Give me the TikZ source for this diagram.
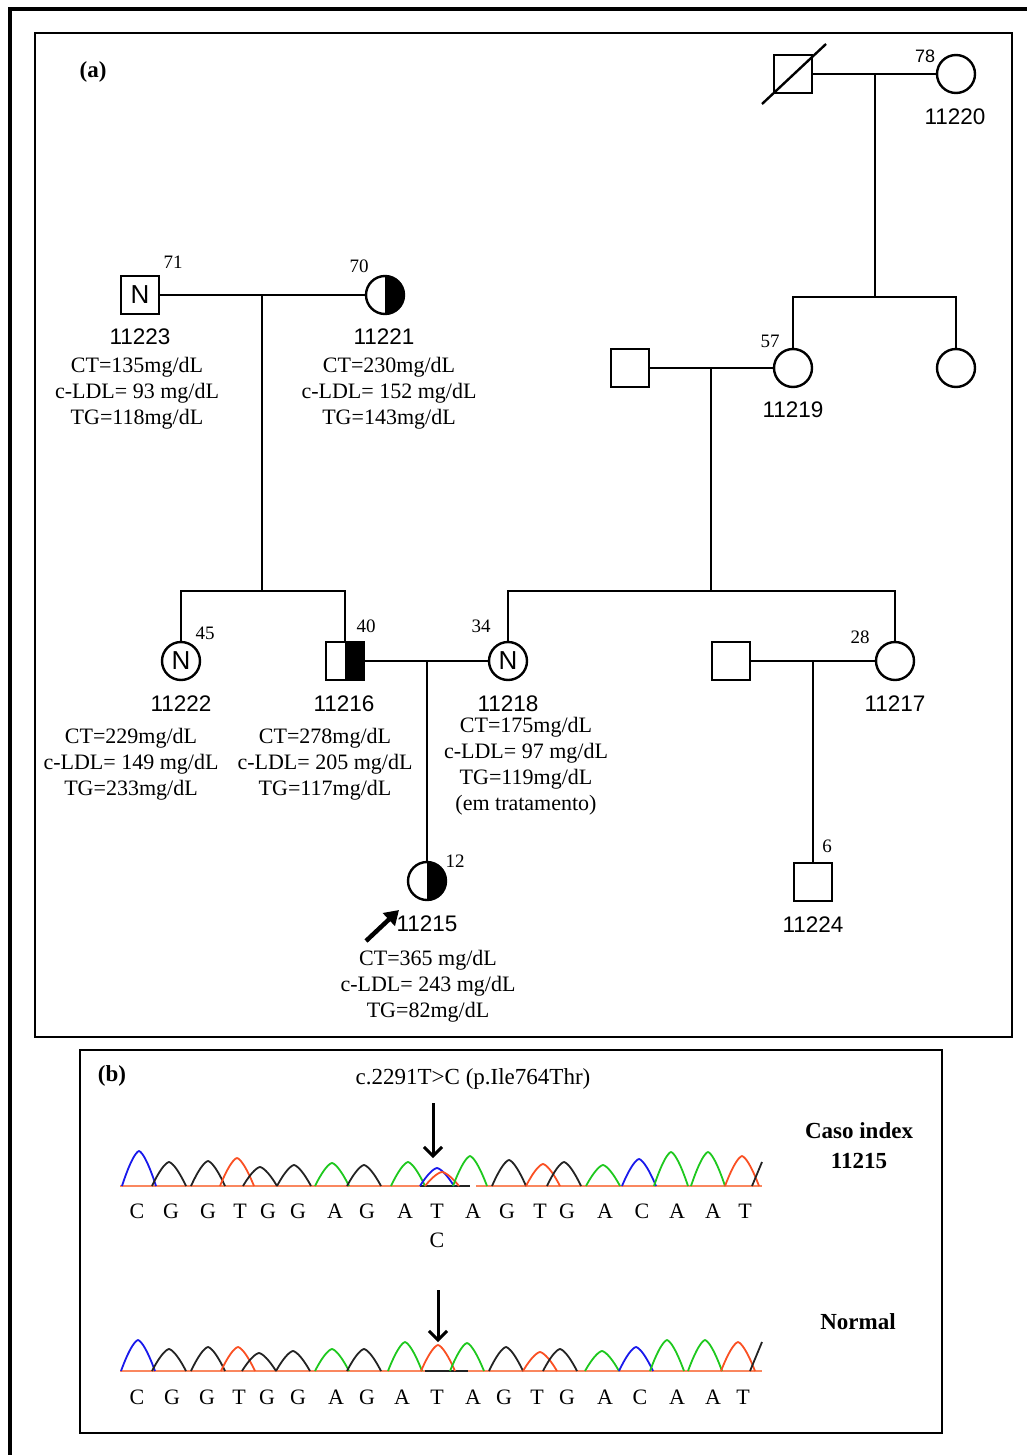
\documentclass[tikz,border=0pt]{standalone}
\usepackage{fontspec}
\setmainfont{Liberation Serif}
\newfontfamily\arialf{Liberation Sans}
\usetikzlibrary{arrows.meta,calc}
\definecolor{cblue}{RGB}{25,25,235}
\definecolor{cgreen}{RGB}{30,200,30}
\definecolor{cred}{RGB}{250,80,35}
\definecolor{cbase}{RGB}{250,135,95}
\definecolor{cblack}{RGB}{35,35,35}
\newcommand\pk[4]{\draw[#3,line width=1.8pt,line join=round] plot[domain=-17:17,samples=25,smooth] ({#1+\x},{#4-#2*(1-abs(\x/17)^1.5)});}
\begin{document}
\begin{tikzpicture}[x=1pt,y=-1pt,
  ln/.style={line width=2.6pt},
  male/.style={draw,line width=2.4pt,rectangle,minimum size=38pt,inner sep=0pt,fill=white},
  female/.style={draw,line width=2.4pt,circle,minimum size=38pt,inner sep=0pt,fill=white},
  halfright/.style={path picture={\fill[black] (path picture bounding box.north) rectangle (path picture bounding box.south east);}},
  nmark/.style={font=\arialf\fontsize{26}{26}\selectfont},
  idl/.style={font=\arialf\fontsize{22.5}{24}\selectfont,inner sep=0pt},
  age/.style={font=\fontsize{19}{22}\selectfont,inner sep=0pt},
  lab/.style={font=\fontsize{22}{26}\selectfont,align=center,inner sep=0pt},
  seq/.style={font=\fontsize{22}{24}\selectfont,inner sep=0pt},
  bold/.style={font=\bfseries\fontsize{23}{30}\selectfont,align=center,inner sep=0pt},
  darrow/.style={line width=3pt,-{Straight Barb[length=9pt,width=18pt]}}
]
\useasboundingbox (0,0) rectangle (1027,1455);
% frames
\draw[line width=3.5pt] (1040,9) -- (10,9) -- (10,1470);
\draw[line width=2pt] (35,33) rectangle (1012,1037);
\draw[line width=2pt] (80,1050) rectangle (942,1433);
\node[font=\bfseries\fontsize{23}{24}\selectfont,inner sep=0pt] (la) at (93,72) {(a)};

% individuals
\node[male] (d1) at (793,74) {};
\draw[line width=2.4pt] ([shift={(-31,30)}]d1.center) -- ([shift={(33,-30)}]d1.center);
\node[female] (i11220) at (956,74) {};
\node[male,nmark] (i11223) at (140,295) {N};
\node[female,halfright] (i11221) at (385,295) {};
\node[male] (u1) at (630,368) {};
\node[female] (i11219) at (793,368) {};
\node[female] (u2) at (956,368) {};
\node[female,nmark] (i11222) at (181,661) {N};
\node[male,halfright] (i11216) at (345,661) {};
\node[female,nmark] (i11218) at (508,661) {N};
\node[male] (u3) at (731,661) {};
\node[female] (i11217) at (895,661) {};
\node[female,halfright] (i11215) at (427,881) {};
\node[male] (i11224) at (813,882) {};

% junction coordinates
\coordinate (m1) at (875,74);
\coordinate (s1) at (875,297);
\coordinate (s1L) at (793,297);
\coordinate (s1R) at (956,297);
\coordinate (m2) at (262,295);
\coordinate (s2) at (262,591);
\coordinate (s2L) at (181,591);
\coordinate (s2R) at (345,591);
\coordinate (m3) at (711,368);
\coordinate (s3) at (711,591);
\coordinate (s3L) at (508,591);
\coordinate (s3R) at (895,591);
\coordinate (m4) at (427,661);
\coordinate (m5) at (813,661);

% connectors
\draw[ln] (d1) -- (i11220);
\draw[ln] (m1) -- (s1);
\draw[ln] (i11219) -- (s1L) -- (s1R) -- (u2);
\draw[ln] (i11223) -- (i11221);
\draw[ln] (m2) -- (s2);
\draw[ln] (i11222) -- (s2L) -- (s2R) -- (i11216);
\draw[ln] (u1) -- (i11219);
\draw[ln] (m3) -- (s3);
\draw[ln] (i11218) -- (s3L) -- (s3R) -- (i11217);
\draw[ln] (i11216) -- (i11218);
\draw[ln] (m4) -- (i11215);
\draw[ln] (u3) -- (i11217);
\draw[ln] (m5) -- (i11224);

% ages
\node[age,font=\arialf\fontsize{18}{20}\selectfont] (a78) at (925,56) {78};
\node[age] (a71) at (173,262) {71};
\node[age] (a70) at (359,266) {70};
\node[age] (a57) at (770,341) {57};
\node[age] (a45) at (205,633) {45};
\node[age] (a40) at (366,626) {40};
\node[age] (a34) at (481,626) {34};
\node[age] (a28) at (860,637) {28};
\node[age] (a6) at (827,846) {6};
\node[age] (a12) at (455,861) {12};

% ids
\node[idl] (t11220) at (955,117) {11220};
\node[idl] (t11223) at (140,337) {11223};
\node[idl] (t11221) at (384,337) {11221};
\node[idl] (t11219) at (793,410) {11219};
\node[idl] (t11222) at (181,704) {11222};
\node[idl] (t11216) at (344,704) {11216};
\node[idl] (t11218) at (508,704) {11218};
\node[idl] (t11217) at (895,704) {11217};
\node[idl] (t11224) at (813,925) {11224};
\node[idl] (t11215) at (427,924) {11215};

% lab values
\node[lab] (v11223) at (137,393) {CT=135mg/dL\\c-LDL= 93 mg/dL\\TG=118mg/dL};
\node[lab] (v11221) at (389,393) {CT=230mg/dL\\c-LDL= 152 mg/dL\\TG=143mg/dL};
\node[lab] (v11222) at (131,764) {CT=229mg/dL\\c-LDL= 149 mg/dL\\TG=233mg/dL};
\node[lab] (v11216) at (325,764) {CT=278mg/dL\\c-LDL= 205 mg/dL\\TG=117mg/dL};
\node[lab] (v11218) at (526,766) {CT=175mg/dL\\c-LDL= 97 mg/dL\\TG=119mg/dL\\(em tratamento)};
\node[lab] (v11215) at (428,986) {CT=365 mg/dL\\c-LDL= 243 mg/dL\\TG=82mg/dL};

% proband arrow
\coordinate (pa) at (366,941);
\coordinate (pb) at (399,910);
\draw[line width=4.5pt,-{Triangle[length=14pt,width=17pt]}] (pa) -- (pb);

% panel b
\node[font=\bfseries\fontsize{23}{24}\selectfont,inner sep=0pt] (lb) at (112,1076) {(b)};
\node[font=\fontsize{23}{24}\selectfont,inner sep=0pt] (mut) at (473,1079) {c.2291T>C (p.Ile764Thr)};
\coordinate (ar1s) at (433,1103);
\coordinate (ar1e) at (433,1158);
\draw[darrow] (ar1s) -- (ar1e);
\node[bold] (ci) at (859,1146) {Caso index\\11215};
\node[bold] (nl) at (858,1322) {Normal};
\coordinate (ar2s) at (438,1290);
\coordinate (ar2e) at (438,1342);
\draw[darrow] (ar2s) -- (ar2e);

% chromatogram 1
\draw[cbase,line width=1.8pt] (120,1186) -- (468,1186);
\draw[cbase,line width=1.8pt] (476,1186) -- (762,1186);
\draw[cblack,line width=1.8pt] (420,1186) -- (470,1186);
\pk{139}{35}{cblue}{1186}
\pk{169}{24}{cblack}{1186}
\pk{208}{25}{cblack}{1186}
\pk{237}{28}{cred}{1186}
\pk{260}{19}{cblack}{1186}
\pk{294}{21}{cblack}{1186}
\pk{332}{23}{cgreen}{1186}
\pk{364}{21}{cblack}{1186}
\pk{408}{24}{cgreen}{1186}
\pk{437}{18}{cblue}{1186}
\pk{442}{14}{cred}{1186}
\pk{470}{30}{cgreen}{1186}
\pk{509}{26}{cblack}{1186}
\pk{543}{22}{cred}{1186}
\pk{564}{24}{cblack}{1186}
\pk{603}{21}{cgreen}{1186}
\pk{639}{27}{cblue}{1186}
\pk{671}{34}{cgreen}{1186}
\pk{708}{34}{cgreen}{1186}
\pk{742}{30}{cred}{1186}
\draw[cblack,line width=1.8pt] (752,1186) -- (762,1162);

% chromatogram 2
\draw[cbase,line width=1.8pt] (120,1371) -- (762,1371);
\draw[cblack,line width=1.8pt] (425,1371) -- (468,1371);
\pk{138}{31}{cblue}{1371}
\pk{169}{22}{cblack}{1371}
\pk{208}{24}{cblack}{1371}
\pk{238}{24}{cred}{1371}
\pk{259}{18}{cblack}{1371}
\pk{293}{20}{cblack}{1371}
\pk{332}{22}{cgreen}{1371}
\pk{364}{22}{cblack}{1371}
\pk{405}{29}{cgreen}{1371}
\pk{438}{26}{cred}{1371}
\pk{467}{28}{cgreen}{1371}
\pk{506}{24}{cblack}{1371}
\pk{540}{19}{cred}{1371}
\pk{560}{22}{cblack}{1371}
\pk{602}{20}{cgreen}{1371}
\pk{636}{24}{cblue}{1371}
\pk{667}{31}{cgreen}{1371}
\pk{705}{31}{cgreen}{1371}
\pk{738}{29}{cred}{1371}
\draw[cblack,line width=1.8pt] (750,1371) -- (762,1342);

% sequence letters
\foreach \xx/\ll [count=\i] in {137/C,171/G,208/G,240/T,268/G,298/G,335/A,367/G,405/A,437/T,473/A,507/G,540/T,567/G,605/A,642/C,677/A,713/A,745/T}
  \node[seq] (sa\i) at (\xx,1211) {\ll};
\node[seq] (salt) at (437,1240) {C};
\foreach \xx/\ll [count=\i] in {137/C,172/G,207/G,239/T,267/G,298/G,336/A,367/G,402/A,437/T,473/A,504/G,537/T,567/G,605/A,640/C,677/A,713/A,743/T}
  \node[seq] (sb\i) at (\xx,1397) {\ll};
\end{tikzpicture}
\end{document}
